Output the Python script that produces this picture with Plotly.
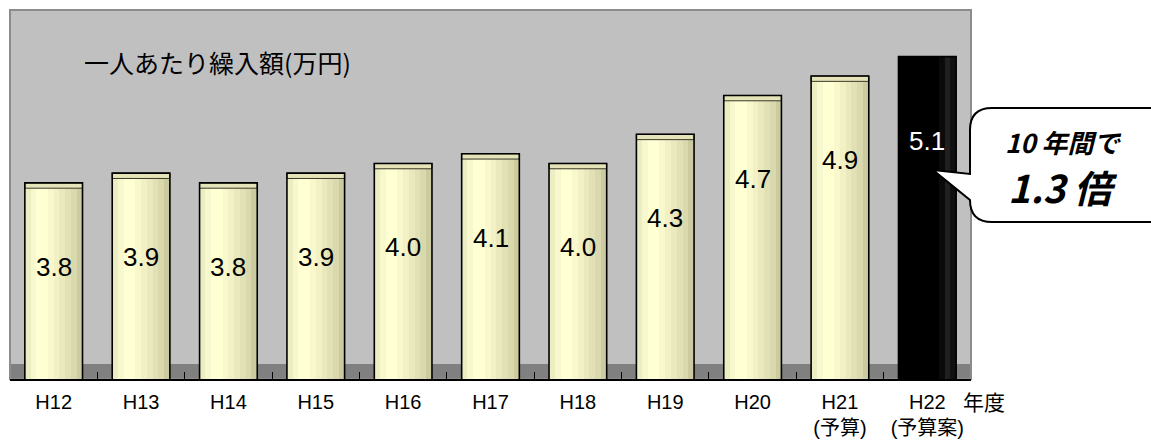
import plotly.graph_objects as go

# ---- data ----
categories = ["H12", "H13", "H14", "H15", "H16", "H17", "H18", "H19", "H20", "H21", "H22"]
tick_labels = ["H12", "H13", "H14", "H15", "H16", "H17", "H18", "H19", "H20",
               "H21<br>(予算)", "H22<br>(予算案)"]
values = [3.8, 3.9, 3.8, 3.9, 4.0, 4.1, 4.0, 4.3, 4.7, 4.9, 5.1]
value_labels = ["3.8", "3.9", "3.8", "3.9", "4.0", "4.1", "4.0", "4.3", "4.7", "4.9", "5.1"]
title_text = "一人あたり繰入額(万円)"
unit_text = "年度"
callout_line1 = "10 年間で"
callout_line2 = "1.3 倍"

# ---- geometry / style ----
W, H = 1151, 441
L, R, T, B = 10, 180, 10, 62
PW, PH = W - L - R, H - T - B

def px(x):
    return (x - L) / PW

def py(y):
    return (H - B - y) / PH

BAR_W = 0.66
LID = 0.055
stripe_colors = ['#EDEDC2', '#F8F8CE', '#FFFFD4', '#FFFFD2', '#F8F8CC',
                 '#F1F1C5', '#E9E9BD', '#E1E1B5', '#D9D9AD', '#CBCB9F']
dark_stripes = ['#000000', '#000000', '#000000', '#000000', '#000000',
                '#000000', '#000000', '#0a0a0a', '#202020', '#101010']
n = len(stripe_colors)
sw = BAR_W / n

fig = go.Figure()
for i in range(n):
    cols = [stripe_colors[i]] * (len(categories) - 1) + [dark_stripes[i]]
    fig.add_trace(go.Bar(
        x=categories, y=values, width=sw, offset=-BAR_W / 2 + i * sw,
        marker=dict(color=cols, line=dict(width=0)),
        hoverinfo="skip", showlegend=False,
    ))
# cylinder lid
fig.add_trace(go.Bar(
    x=categories[:-1], y=[LID] * (len(categories) - 1),
    base=[v - LID for v in values[:-1]],
    width=BAR_W, offset=-BAR_W / 2,
    marker=dict(color="#E4E4B8", line=dict(color="#3a3a2a", width=1)),
    hoverinfo="skip", showlegend=False,
))
# outline
fig.add_trace(go.Bar(
    x=categories, y=values, width=BAR_W, offset=-BAR_W / 2,
    marker=dict(color="rgba(0,0,0,0)", line=dict(color="black", width=1.6)),
    hoverinfo="skip", showlegend=False,
))

annotations = []
for c, v, t in zip(categories, values, value_labels):
    annotations.append(dict(
        x=c, y=v, xref="x", yref="y", text=t, showarrow=False,
        yshift=-84, yanchor="middle",
        font=dict(family="Liberation Sans, Arial, sans-serif", size=26,
                  color="white" if c == categories[-1] else "black"),
    ))

annotations.append(dict(
    x=px(82), y=py(62), xref="paper", yref="paper", text=title_text,
    showarrow=False, xanchor="left", yanchor="middle",
    font=dict(family="Noto Sans CJK JP", size=25, color="black"),
))
annotations.append(dict(
    x=px(984), y=py(401), xref="paper", yref="paper", text=unit_text,
    showarrow=False, xanchor="center", yanchor="middle",
    font=dict(family="Noto Sans CJK JP", size=21, color="black"),
))
annotations.append(dict(
    x=px(1063), y=py(142), xref="paper", yref="paper",
    text="<b><i>" + callout_line1 + "</i></b>",
    showarrow=False, xanchor="center", yanchor="middle",
    font=dict(family="Noto Sans CJK JP", size=26, color="black"),
))
annotations.append(dict(
    x=px(1063), y=py(186), xref="paper", yref="paper",
    text="<b><i>" + callout_line2 + "</i></b>",
    showarrow=False, xanchor="center", yanchor="middle",
    font=dict(family="Noto Sans CJK JP", size=38, color="black"),
))

def P(x, y):
    return f"{px(x):.5f},{py(y):.5f}"

callout_path = (
    f"M {P(992,108)} L {P(1175,108)} L {P(1175,222)} L {P(992,222)} "
    f"Q {P(970,222)} {P(970,200)} L {P(933,170)} L {P(970,174)} "
    f"L {P(970,130)} Q {P(970,108)} {P(992,108)} Z"
)

shapes = [
    # floor
    dict(type="rect", xref="paper", yref="paper", x0=0, x1=1, y0=0, y1=py(364),
         fillcolor="#808080", line=dict(width=0), layer="below"),
    # wall border
    dict(type="rect", xref="paper", yref="paper", x0=0, x1=1, y0=0, y1=1,
         fillcolor="rgba(0,0,0,0)", line=dict(color="#8c8c8c", width=2), layer="below"),
    # callout
    dict(type="path", xref="paper", yref="paper", path=callout_path,
         fillcolor="white", line=dict(color="black", width=2), layer="above"),
]

fig.update_layout(
    width=W, height=H,
    margin=dict(l=L, r=R, t=T, b=B, pad=0, autoexpand=False),
    paper_bgcolor="white", plot_bgcolor="#C0C0C0",
    barmode="overlay", bargap=0,
    showlegend=False,
    annotations=annotations, shapes=shapes,
    xaxis=dict(
        type="category", range=[-0.5, len(categories) - 0.5],
        tickmode="array", tickvals=categories, ticktext=tick_labels,
        showline=True, linecolor="black", linewidth=1.5,
        ticks="inside", tickson="boundaries", ticklen=7, tickcolor="black", tickwidth=1,
        ticklabelstandoff=4, automargin=False,
        tickfont=dict(family="Liberation Sans, Noto Sans CJK JP", size=20, color="black"),
        showgrid=False, zeroline=False, fixedrange=True,
    ),
    yaxis=dict(range=[1.78, 5.58], visible=False, showgrid=False, zeroline=False,
               fixedrange=True, automargin=False),
)

fig.write_html(
    "out.html",
    config={"displayModeBar": False, "staticPlot": True},
    post_script="document.body.style.margin='0';document.body.style.overflow='hidden';",
)
